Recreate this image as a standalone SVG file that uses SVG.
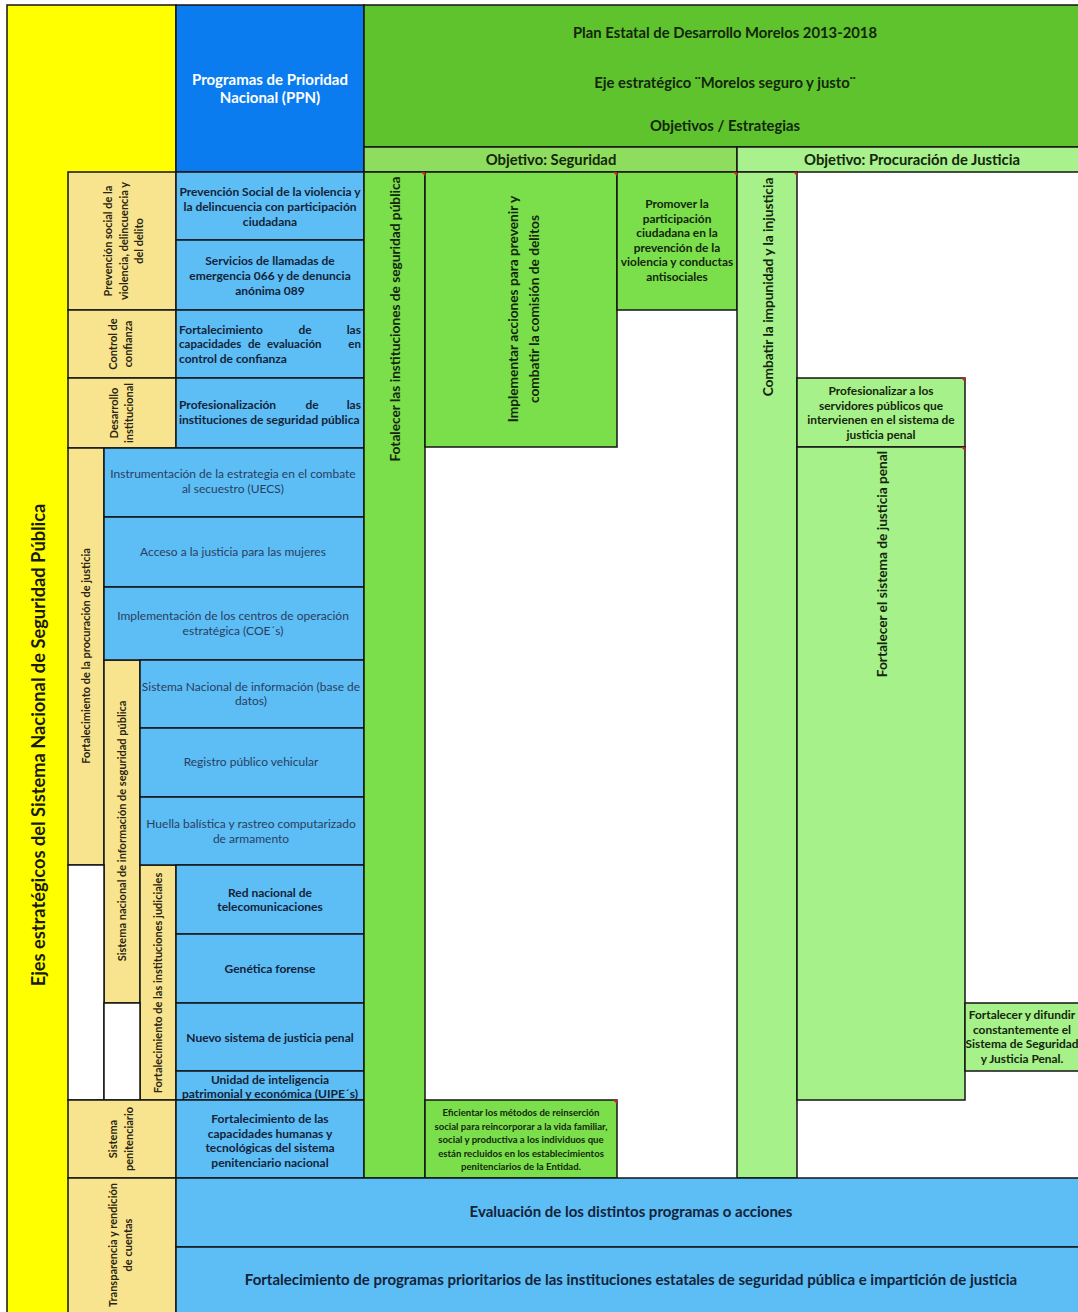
<svg xmlns="http://www.w3.org/2000/svg" width="1078" height="1312" viewBox="0 0 1078 1312">
<style>
.b{stroke:#141414;stroke-width:1.5}
.ylw{fill:#FFFF00}.ly{fill:#F8E48E}.hb{fill:#0B7CF0}.lb{fill:#5CBEF4}.hg{fill:#5EC32C}.og{fill:#8EDD5E}.oj{fill:#A8F18D}.g{fill:#7ADF4B}.lg{fill:#A7F18A}.w{fill:#FFFFFF}
text{font-family:Lato,"Liberation Sans",sans-serif}
.t{fill:#14233a;font-size:12px;font-weight:bold;text-anchor:middle}
.r{fill:#2a3d63;font-size:12px;text-anchor:middle}
.y{fill:#2a2410;font-size:11px;font-weight:bold;text-anchor:middle}
.gh{fill:#14260c;font-size:14.8px;font-weight:bold;text-anchor:middle}
.gt{fill:#14260c;font-size:13.7px;font-weight:bold;text-anchor:middle}
.gs{fill:#14260c;font-size:11.9px;font-weight:bold;text-anchor:middle}
.red{fill:#D42020}
</style>
<rect x="0" y="0" width="1078" height="1312" class="w"/>

<g id="eje-main">
<rect x="7" y="5" width="169" height="1310" class="ylw b"/>
<text class="gt" style="font-size:18.3px;fill:#1a1a0a" transform="translate(45,745) rotate(-90)">Ejes estratégicos del Sistema Nacional de Seguridad Pública</text>
</g>

<g id="header-ppn">
<rect x="176" y="5" width="188" height="167" class="hb b"/>
<text class="t" style="fill:#fff;font-size:15px" x="270" y="85">Programas de Prioridad<tspan x="270" dy="18">Nacional (PPN)</tspan></text>
</g>

<g id="header-plan">
<rect x="364" y="5" width="720" height="142" class="hg b"/>
<text class="gh" x="725" y="38">Plan Estatal de Desarrollo Morelos 2013-2018</text>
<text class="gh" x="725" y="88">Eje estratégico ¨Morelos seguro y justo¨</text>
<text class="gh" x="725" y="131">Objetivos / Estrategias</text>
</g>

<g id="obj-seguridad">
<rect x="364" y="147" width="373" height="25" class="og b"/>
<text class="gh" x="551" y="165">Objetivo: Seguridad</text>
</g>
<g id="obj-justicia">
<rect x="737" y="147" width="350" height="25" class="oj b"/>
<text class="gh" x="912" y="165">Objetivo: Procuración de Justicia</text>
</g>

<!-- yellow sub-axes -->
<g id="eje-prevencion">
<rect x="68" y="172" width="108" height="138" class="ly b"/>
<text class="y" transform="translate(112,241) rotate(-90)">Prevención social de la<tspan x="0" dy="15.5">violencia, delincuencia y</tspan><tspan x="0" dy="15.5">del delito</tspan></text>
</g>
<g id="eje-control">
<rect x="68" y="310" width="108" height="68" class="ly b"/>
<text class="y" transform="translate(117,344) rotate(-90)">Control de<tspan x="0" dy="15">confianza</tspan></text>
</g>
<g id="eje-desarrollo">
<rect x="68" y="378" width="108" height="70" class="ly b"/>
<text class="y" transform="translate(118,413) rotate(-90)">Desarrollo<tspan x="0" dy="14.5">institucional</tspan></text>
</g>
<g id="eje-procuracion">
<rect x="68" y="448" width="36" height="417" class="ly b"/>
<text class="y" transform="translate(90,656) rotate(-90)">Fortalecimiento de la procuración de justicia</text>
</g>
<g id="eje-informacion">
<rect x="104" y="660" width="36" height="343" class="ly b"/>
<text class="y" transform="translate(126,831) rotate(-90)">Sistema nacional de información de seguridad pública</text>
</g>
<g id="eje-judiciales">
<rect x="140" y="865" width="36" height="235" class="ly b"/>
<text class="y" transform="translate(162,983) rotate(-90)">Fortalecimiento de las instituciones judiciales</text>
</g>
<g id="blank-left">
<rect x="68" y="865" width="36" height="235" class="w b"/>
<rect x="104" y="1003" width="36" height="97" class="w b"/>
</g>
<g id="eje-penitenciario">
<rect x="68" y="1100" width="108" height="78" class="ly b"/>
<text class="y" transform="translate(117,1139) rotate(-90)">Sistema<tspan x="0" dy="16">penitenciario</tspan></text>
</g>
<g id="eje-transparencia">
<rect x="68" y="1178" width="108" height="140" class="ly b"/>
<text class="y" transform="translate(117,1245) rotate(-90)">Transparencia y rendición<tspan x="0" dy="14.5">de cuentas</tspan></text>
</g>

<!-- blue programs -->
<g id="ppn-prevencion">
<rect x="176" y="172" width="188" height="68" class="lb b"/>
<text class="t" x="270" y="196">Prevención Social de la violencia y<tspan x="270" dy="15">la delincuencia con participación</tspan><tspan x="270" dy="15">ciudadana</tspan></text>
</g>
<g id="ppn-llamadas">
<rect x="176" y="240" width="188" height="70" class="lb b"/>
<text class="t" x="270" y="265">Servicios de llamadas de<tspan x="270" dy="15">emergencia 066 y de denuncia</tspan><tspan x="270" dy="15">anónima 089</tspan></text>
</g>
<g id="ppn-control">
<rect x="176" y="310" width="188" height="68" class="lb b"/>
<text class="t" style="text-anchor:start" x="179" y="334">Fortalecimiento</text>
<text class="t" x="305" y="334">de</text>
<text class="t" style="text-anchor:end" x="361" y="334">las</text>
<text class="t" style="text-anchor:start;font-size:11.5px" x="179" y="348">capacidades</text>
<text class="t" style="text-anchor:start;font-size:11.5px" x="248" y="348">de</text>
<text class="t" style="text-anchor:start;font-size:11.5px" x="267" y="348">evaluación</text>
<text class="t" style="text-anchor:end;font-size:11.5px" x="361" y="348">en</text>
<text class="t" style="text-anchor:start" x="179" y="363">control de confianza</text>
</g>
<g id="ppn-profesionalizacion">
<rect x="176" y="378" width="188" height="70" class="lb b"/>
<text class="t" style="text-anchor:start" x="179" y="409">Profesionalización</text>
<text class="t" x="312" y="409">de</text>
<text class="t" style="text-anchor:end" x="361" y="409">las</text>
<text class="t" style="text-anchor:start" x="179" y="424">instituciones de seguridad pública</text>
</g>
<g id="ppn-secuestro">
<rect x="104" y="448" width="260" height="69" class="lb b"/>
<text class="r" x="233" y="478">Instrumentación de la estrategia en el combate<tspan x="233" dy="15">al secuestro (UECS)</tspan></text>
</g>
<g id="ppn-mujeres">
<rect x="104" y="517" width="260" height="70" class="lb b"/>
<text class="r" x="233" y="556">Acceso a la justicia para las mujeres</text>
</g>
<g id="ppn-coe">
<rect x="104" y="587" width="260" height="73" class="lb b"/>
<text class="r" x="233" y="620">Implementación de los centros de operación<tspan x="233" dy="15">estratégica (COE´s)</tspan></text>
</g>
<g id="ppn-sni">
<rect x="140" y="660" width="224" height="68" class="lb b"/>
<text class="r" x="251" y="691">Sistema Nacional de información (base de<tspan x="251" dy="14">datos)</tspan></text>
</g>
<g id="ppn-vehicular">
<rect x="140" y="728" width="224" height="69" class="lb b"/>
<text class="r" x="251" y="766">Registro público vehicular</text>
</g>
<g id="ppn-balistica">
<rect x="140" y="797" width="224" height="68" class="lb b"/>
<text class="r" x="251" y="828">Huella balística y rastreo computarizado<tspan x="251" dy="15">de armamento</tspan></text>
</g>
<g id="ppn-telecom">
<rect x="176" y="865" width="188" height="69" class="lb b"/>
<text class="t" x="270" y="897">Red nacional de<tspan x="270" dy="14">telecomunicaciones</tspan></text>
</g>
<g id="ppn-genetica">
<rect x="176" y="934" width="188" height="69" class="lb b"/>
<text class="t" x="270" y="973">Genética forense</text>
</g>
<g id="ppn-nsjp">
<rect x="176" y="1003" width="188" height="68" class="lb b"/>
<text class="t" x="270" y="1042">Nuevo sistema de justicia penal</text>
</g>
<g id="ppn-uipe">
<rect x="176" y="1071" width="188" height="29" class="lb b"/>
<text class="t" x="270" y="1083.5">Unidad de inteligencia<tspan x="270" dy="14">patrimonial y económica (UIPE´s)</tspan></text>
</g>
<g id="ppn-penitenciario">
<rect x="176" y="1100" width="188" height="78" class="lb b"/>
<text class="t" x="270" y="1123">Fortalecimiento de las<tspan x="270" dy="14.5">capacidades humanas y</tspan><tspan x="270" dy="14.5">tecnológicas del sistema</tspan><tspan x="270" dy="14.5">penitenciario nacional</tspan></text>
</g>

<!-- seguridad strategies -->
<g id="est-fortalecer-instituciones">
<rect x="364" y="172" width="61" height="1006" class="g b"/>
<text class="gt" transform="translate(400,319) rotate(-90)">Fotalecer las instituciones de seguridad pública</text>
</g>
<g id="est-implementar">
<rect x="425" y="172" width="192" height="275" class="g b"/>
<text class="gt" transform="translate(518,309) rotate(-90)">Implementar acciones para prevenir y<tspan x="0" dy="21">combatir la comisión de delitos</tspan></text>
</g>
<g id="est-promover">
<rect x="617" y="172" width="120" height="138" class="g b"/>
<text class="gs" x="677" y="208">Promover la<tspan x="677" dy="14.5">participación</tspan><tspan x="677" dy="14.5">ciudadana en la</tspan><tspan x="677" dy="14.5">prevención de la</tspan><tspan x="677" dy="14.5">violencia y conductas</tspan><tspan x="677" dy="14.5">antisociales</tspan></text>
</g>
<g id="est-eficientar">
<rect x="425" y="1100" width="192" height="78" class="g b"/>
<text class="gs" style="font-size:9.6px" x="521" y="1116">Eficientar los métodos de reinserción<tspan x="521" dy="13.6">social para reincorporar a la vida familiar,</tspan><tspan x="521" dy="13.6">social y productiva a los individuos que</tspan><tspan x="521" dy="13.6">están recluidos en los establecimientos</tspan><tspan x="521" dy="13.6">penitenciarios de la Entidad.</tspan></text>
</g>

<!-- justicia strategies -->
<g id="est-combatir">
<rect x="737" y="172" width="60" height="1006" class="lg b"/>
<text class="gt" transform="translate(773,287) rotate(-90)">Combatir la impunidad y la injusticia</text>
</g>
<g id="est-profesionalizar">
<rect x="797" y="378" width="168" height="69" class="lg b"/>
<text class="gs" x="881" y="395">Profesionalizar a los<tspan x="881" dy="14.5">servidores públicos que</tspan><tspan x="881" dy="14.5">intervienen en el sistema de</tspan><tspan x="881" dy="14.5">justicia penal</tspan></text>
</g>
<g id="est-sistema-penal">
<rect x="797" y="447" width="168" height="653" class="lg b"/>
<text class="gt" transform="translate(887,564) rotate(-90)">Fortalecer el sistema de justicia penal</text>
</g>
<g id="est-difundir">
<rect x="965" y="1003" width="125" height="68" class="lg b"/>
<text class="gs" x="1022" y="1019">Fortalecer y difundir<tspan x="1022" dy="14.5">constantemente el</tspan><tspan x="1022" dy="14.5">Sistema de Seguridad</tspan><tspan x="1022" dy="14.5">y Justicia Penal.</tspan></text>
</g>

<!-- bottom programs -->
<g id="ppn-evaluacion">
<rect x="176" y="1178" width="910" height="69" class="lb b"/>
<text class="t" style="font-size:15px" x="631" y="1217">Evaluación de los distintos programas o acciones</text>
</g>
<g id="ppn-fortalecimiento-programas">
<rect x="176" y="1247" width="910" height="70" class="lb b"/>
<text class="t" style="font-size:15px" x="631" y="1285">Fortalecimiento de programas prioritarios de las instituciones estatales de seguridad pública e impartición de justicia</text>
</g>

<g id="comment-marks">
<polygon class="red" points="421,172 425,172 425,176"/>
<polygon class="red" points="613,172 617,172 617,176"/>
<polygon class="red" points="733,172 737,172 737,176"/>
<polygon class="red" points="793,172 797,172 797,176"/>
<polygon class="red" points="961,378 965,378 965,382"/>
<polygon class="red" points="961,447 965,447 965,451"/>
<polygon class="red" points="613,1100 617,1100 617,1104"/>
</g>
</svg>
